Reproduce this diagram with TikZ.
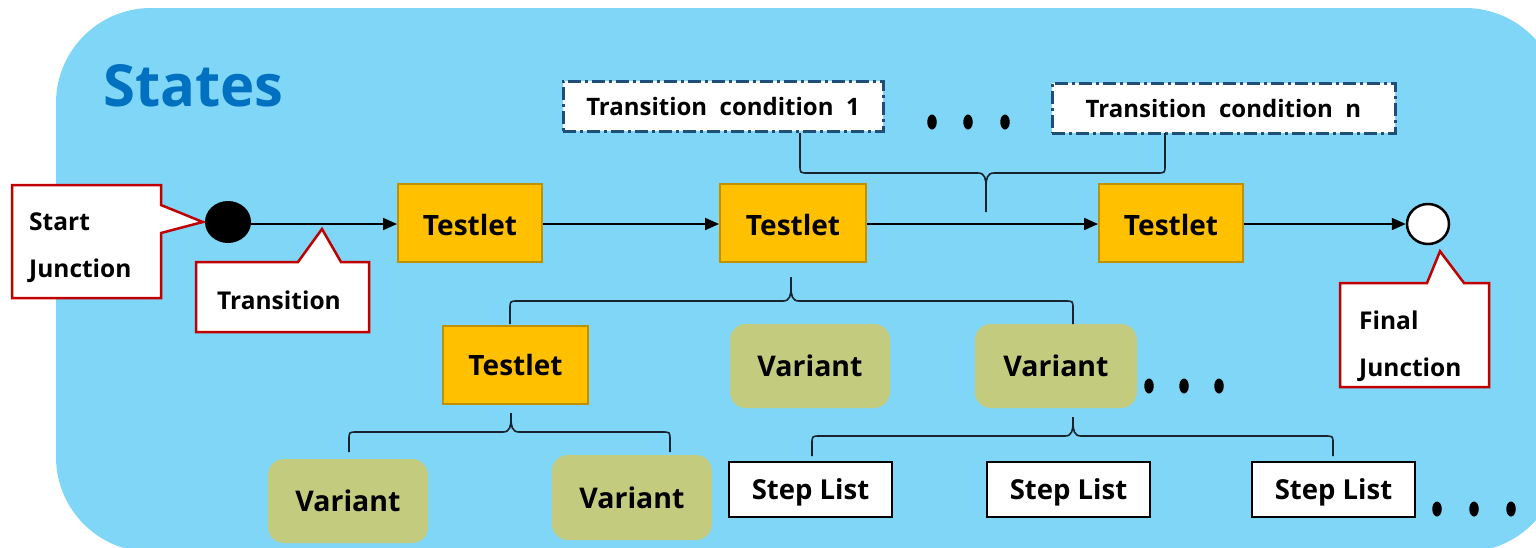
\documentclass[tikz,border=0pt]{standalone}
\usepackage{fontspec}
\setmainfont{Open Sans}
\usetikzlibrary{arrows.meta,calc,shapes.geometric}

\definecolor{bgblue}{RGB}{128,214,247}
\definecolor{titleblue}{RGB}{0,112,192}
\definecolor{testfill}{RGB}{255,192,0}
\definecolor{testedge}{RGB}{191,144,0}
\definecolor{varfill}{RGB}{195,203,127}
\definecolor{condedge}{RGB}{31,78,121}
\definecolor{callred}{RGB}{192,0,0}
\definecolor{bracecol}{RGB}{25,35,45}

% curly brace: x-left, x-right, x-centre, y of the ends, y of the bar, y of the tip
\newcommand\drawbrace[6]{%
  \pgfmathsetmacro\bd{(#4>#5) ? 1 : -1}%
  \draw[bracestyle] (#1,#4) -- (#1,{#5+8*\bd}) .. controls (#1,#5) .. ({#1+8},#5)
    -- ({#3-8},#5) .. controls ({#3-1},#5) and (#3,{#5-6*\bd}) .. (#3,{#5-14*\bd})
    -- (#3,#6) -- (#3,{#5-14*\bd})
    .. controls (#3,{#5-6*\bd}) and ({#3+1},#5) .. ({#3+8},#5)
    -- ({#2-8},#5) .. controls (#2,#5) .. (#2,{#5+8*\bd}) -- (#2,#4);
}

\tikzset{
  testlet/.style={draw=testedge, line width=2pt, fill=testfill, minimum width=144pt,
    minimum height=78pt, inner sep=0pt, font=\fontsize{28}{32}\selectfont\bfseries},
  variant/.style={fill=varfill, rounded corners=16pt, minimum width=160pt,
    minimum height=84pt, inner sep=0pt, font=\fontsize{28.5}{32}\selectfont\bfseries},
  steplist/.style={draw=black, line width=2.5pt, fill=white, minimum width=163pt,
    minimum height=55pt, inner sep=0pt, font=\fontsize{27.5}{30}\selectfont\bfseries},
  condbox/.style={draw=condedge, line width=3pt, fill=white,
    dash pattern=on 13pt off 4pt on 3pt off 4pt, minimum height=50pt, inner sep=0pt,
    font=\fontsize{24}{28}\selectfont\bfseries},
  calloutbox/.style={draw=callred, line width=2.5pt, fill=white, line join=miter},
  calltext/.style={font=\fontsize{24.5}{47}\selectfont\bfseries, align=left, inner sep=0pt},
  flow/.style={draw=black, line width=2pt, -{Triangle[length=14pt,width=12pt]}},
  bracestyle/.style={draw=bracecol, line width=1.6pt},
  dot/.style={fill=black, ellipse, minimum width=9.5pt, minimum height=15pt, inner sep=0pt},
}

\begin{document}
\begin{tikzpicture}[x=1pt, y=-1pt]
\useasboundingbox (0,0) rectangle (1536,547);

% container
\fill[bgblue, rounded corners=95pt] (56,8) rectangle (1560,552);
\node[anchor=west, text=titleblue, font=\fontsize{58}{68}\selectfont\bfseries, inner sep=0pt]
  (title) at (103,86) {States};

% transition conditions
\node[condbox, minimum width=320pt] (tc1) at (723,106) {Transition\ \ condition\ \ 1};
\node[condbox, minimum width=343pt] (tcn) at (1223.5,108) {Transition\ \ condition\ \ n};
\node[dot] (d1) at (932,122) {};
\node[dot] (d2) at (968,122) {};
\node[dot] (d3) at (1005,122) {};

% junctions
\node[ellipse, fill=black, minimum width=46pt, minimum height=42pt, inner sep=0pt] (sj) at (228,222) {};
\node[ellipse, draw=black, line width=2.5pt, fill=white, minimum width=42pt, minimum height=40pt, inner sep=0pt] (fj) at (1428,224) {};

% top-level testlets
\node[testlet] (t1) at (470,223) {};
\node[testlet, minimum width=146pt] (t2) at (793,223) {};
\node[testlet] (t3) at (1171,223) {};
\node[font=\fontsize{28}{32}\selectfont\bfseries] (t1l) at ($(t1)+(0,2)$) {Testlet};
\node[font=\fontsize{28}{32}\selectfont\bfseries] (t2l) at ($(t2)+(0,2)$) {Testlet};
\node[font=\fontsize{28}{32}\selectfont\bfseries] (t3l) at ($(t3)+(0,2)$) {Testlet};

\draw[flow] (sj.east |- 0,224) -- (t1.west |- 0,224);
\draw[flow] (t1.east |- 0,224) -- (t2.west |- 0,224);
\draw[flow] (t2.east |- 0,224) -- (t3.west |- 0,224);
\draw[flow] (t3.east |- 0,224) -- (fj.west);

% brace joining the conditions to the transition
\drawbrace{800}{1165}{986}{133}{173}{212}

% children of the second testlet
\node[testlet, minimum width=145pt] (t4) at (515.5,365) {Testlet};
\node[variant] (va) at (810,366) {Variant};
\node[variant, minimum width=162pt] (vb) at (1056,366) {Variant};
\node[dot] (d4) at (1149,386) {};
\node[dot] (d5) at (1184,386) {};
\node[dot] (d6) at (1219,386) {};
\drawbrace{510}{1073}{791}{324}{301}{277}

% children of the nested testlet
\node[variant] (vc) at (348,501) {Variant};
\node[variant, minimum height=85pt] (vd) at (632,497.5) {Variant};
\drawbrace{349}{670}{511}{452}{432}{413}

% step lists of the variant
\node[steplist] (s1) at (810.5,489.5) {};
\node[steplist] (s2) at (1068.5,489.5) {};
\node[steplist] (s3) at (1333.5,489.5) {};
\node[font=\fontsize{27.5}{30}\selectfont\bfseries] (s1l) at ($(s1)+(0,3)$) {Step List};
\node[font=\fontsize{27.5}{30}\selectfont\bfseries] (s2l) at ($(s2)+(0,3)$) {Step List};
\node[font=\fontsize{27.5}{30}\selectfont\bfseries] (s3l) at ($(s3)+(0,3)$) {Step List};
\node[dot] (d7) at (1437,509) {};
\node[dot] (d8) at (1474,509) {};
\node[dot] (d9) at (1511,509) {};
\drawbrace{812}{1333}{1073}{456}{436}{417}

% callouts
\coordinate (sjc-nw) at (12,185);
\coordinate (sjc-se) at (161,298);
\draw[calloutbox] (sjc-nw) -- (sjc-nw -| sjc-se) -- (161,205) -- ($(sj.west)+(-2,0)$)
  -- (161,233) -- (sjc-se) -- (sjc-nw |- sjc-se) -- cycle;
\node[calltext, anchor=west] (sjt) at (29,248) {Start\\Junction};

\coordinate (trc-nw) at (196,262);
\coordinate (trc-se) at (369,332);
\draw[calloutbox] (trc-nw) -- (298,262) -- (322,229) -- (341,262) -- (trc-nw -| trc-se)
  -- (trc-se) -- (trc-nw |- trc-se) -- cycle;
\node[calltext] (trt) at (279,300) {Transition};

\coordinate (fjc-nw) at (1340,283);
\coordinate (fjc-se) at (1489,387);
\draw[calloutbox] (fjc-nw) -- (1427,283) -- ($(fj.south)+(12,6)$) -- (1464,283)
  -- (fjc-nw -| fjc-se) -- (fjc-se) -- (fjc-nw |- fjc-se) -- cycle;
\node[calltext, anchor=west] (fjt) at (1359,346) {Final\\Junction};
\end{tikzpicture}
\end{document}
